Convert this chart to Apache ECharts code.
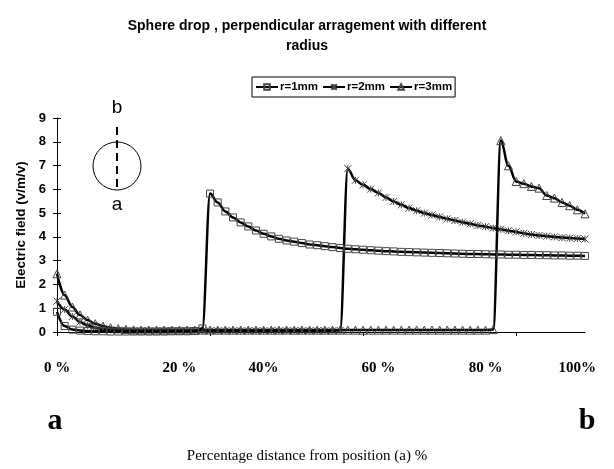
<!DOCTYPE html>
<html>
<head>
<meta charset="utf-8">
<script src="https://cdn.jsdelivr.net/npm/echarts@6/dist/echarts.min.js"></script>
<style>
html,body{margin:0;padding:0;background:#fff;}
#chart{width:614px;height:469px;}
</style>
</head>
<body>
<div id="chart"></div>
<script>
// ---- data ----
const seriesNames = ['r=1mm', 'r=2mm', 'r=3mm'];
const r1 = [0.85,0.25,0.10,0.06,0.04,0.03,0.03,0.02,0.02,0.02,0.02,0.02,0.02,0.02,0.02,0.03,0.03,0.03,0.04,0.15,
  5.82,5.45,5.07,4.82,4.61,4.44,4.27,4.13,4.02,3.92,3.85,3.80,3.74,3.68,3.65,3.61,3.57,3.53,3.50,3.48,
  3.46,3.44,3.42,3.40,3.39,3.37,3.36,3.35,3.34,3.33,3.32,3.31,3.30,3.29,3.28,3.28,3.27,3.26,3.26,3.25,
  3.25,3.24,3.24,3.23,3.23,3.22,3.22,3.21,3.21,3.20];
const r2 = [1.30,0.95,0.65,0.42,0.28,0.18,0.12,0.09,0.07,0.06,0.05,0.05,0.05,0.05,0.05,0.05,0.05,0.05,0.05,0.05,
  0.05,0.05,0.05,0.05,0.05,0.05,0.05,0.05,0.05,0.05,0.05,0.05,0.05,0.05,0.05,0.05,0.05,0.07,6.87,6.38,
  6.19,6.01,5.85,5.66,5.49,5.35,5.21,5.10,5.00,4.92,4.84,4.76,4.69,4.62,4.55,4.48,4.43,4.37,4.32,4.26,
  4.21,4.15,4.10,4.06,4.03,4.00,3.97,3.95,3.93,3.91];
const r3 = [2.45,1.55,1.05,0.72,0.50,0.35,0.25,0.18,0.14,0.11,0.09,0.08,0.08,0.08,0.08,0.08,0.08,0.08,0.08,0.08,
  0.08,0.08,0.08,0.08,0.08,0.08,0.08,0.08,0.08,0.08,0.08,0.08,0.08,0.08,0.08,0.08,0.08,0.08,0.08,0.08,
  0.08,0.08,0.08,0.08,0.08,0.08,0.08,0.08,0.08,0.08,0.08,0.08,0.08,0.08,0.08,0.08,0.08,0.10,8.05,6.99,
  6.33,6.24,6.12,6.05,5.74,5.63,5.45,5.31,5.14,4.97];
const categories = r1.map((_, i) => String(i + 1));
// percentage tick labels and the category point each one sits under
const xTickLabels = ['0 %', '20 %', '40%', '60 %', '80 %', '100%'];
const xTickAt = [0, 16, 27, 42, 56, 68];
const yTicks = [0, 1, 2, 3, 4, 5, 6, 7, 8, 9];

// ---- chart ----
const chart = echarts.init(document.getElementById('chart'), null, {renderer: 'canvas'});
const SANS = 'Liberation Sans, Arial, sans-serif';
const SERIF = 'Liberation Serif, Times New Roman, serif';
const symbols = ['rect', 'path://M0,0 L10,10 M10,0 L0,10 M5,0 L5,10', 'triangle'];
const labelMap = {};
xTickAt.forEach((c, i) => { labelMap[c] = xTickLabels[i]; });

const series = [r1, r2, r3].map((d, i) => ({
  name: seriesNames[i],
  type: 'line',
  data: d,
  smooth: 0.35,
  smoothMonotone: 'x',
  symbol: symbols[i],
  symbolSize: i === 2 ? 8 : 7,
  showAllSymbol: true,
  lineStyle: {color: '#000', width: 2.5},
  itemStyle: {color: 'rgba(255,255,255,0)', borderColor: '#444', borderWidth: 1},
  emphasis: {disabled: true},
  z: 3 - i
}));

chart.setOption({
  animation: false,
  backgroundColor: '#fff',
  title: {
    text: 'Sphere drop , perpendicular arragement with different\nradius',
    left: 'center',
    top: 11,
    textStyle: {fontFamily: SANS, fontWeight: 'bold', fontSize: 14, lineHeight: 20, color: '#000'}
  },
  legend: {
    data: seriesNames,
    left: 252,
    top: 77,
    orient: 'horizontal',
    borderColor: '#000',
    borderWidth: 1,
    padding: [4, 3],
    itemGap: 4,
    itemWidth: 22,
    itemHeight: 7,
    textStyle: {fontFamily: SANS, fontWeight: 'bold', fontSize: 11.5, color: '#000', padding: [0, 0, 0, -3]}
  },
  grid: {left: 57, right: 29, top: 118, bottom: 137, containLabel: false},
  xAxis: {
    type: 'category',
    data: categories,
    boundaryGap: false,
    axisLine: {lineStyle: {color: '#000', width: 1}},
    axisTick: {show: true, interval: 19, length: 4, lineStyle: {color: '#000'}},
    axisLabel: {
      interval: (idx) => labelMap[idx] !== undefined,
      formatter: (v, idx) => labelMap[idx] || '',
      margin: 29,
      fontFamily: SERIF, fontWeight: 'bold', fontSize: 15, color: '#000'
    },
    splitLine: {show: false}
  },
  yAxis: [{
    type: 'value',
    min: 0, max: 9, interval: 1,
    name: 'Electric field (v/m/v)',
    nameLocation: 'middle',
    nameGap: 28,
    nameTextStyle: {fontFamily: SANS, fontWeight: 'bold', fontSize: 13.5, color: '#000'},
    axisLine: {show: true, lineStyle: {color: '#000', width: 1}},
    axisTick: {show: true, length: 4, lineStyle: {color: '#000'}},
    axisLabel: {margin: 11, fontFamily: SANS, fontWeight: 'bold', fontSize: 13, color: '#000',
      formatter: (v) => yTicks.indexOf(v) >= 0 ? String(v) : ''},
    splitLine: {show: false}
  }, {
    type: 'value',
    position: 'left',
    min: 0, max: 9, interval: 1,
    axisLine: {show: false},
    axisTick: {show: true, inside: true, length: 4, lineStyle: {color: '#000'}},
    axisLabel: {show: false},
    splitLine: {show: false}
  }],
  series: series,
  graphic: [
    {type: 'circle', shape: {cx: 117, cy: 166, r: 24}, style: {fill: 'none', stroke: '#000', lineWidth: 1}},
    {type: 'line', shape: {x1: 117, y1: 127, x2: 117, y2: 189}, style: {stroke: '#000', lineWidth: 2, lineDash: [8, 5]}},
    {type: 'text', x: 117, y: 108, style: {text: 'b', fontFamily: SANS, fontSize: 19, fill: '#000', align: 'center', verticalAlign: 'middle'}},
    {type: 'text', x: 117, y: 205, style: {text: 'a', fontFamily: SANS, fontSize: 19, fill: '#000', align: 'center', verticalAlign: 'middle'}},
    {type: 'text', x: 55, y: 421, style: {text: 'a', fontFamily: SERIF, fontWeight: 'bold', fontSize: 30, fill: '#000', align: 'center', verticalAlign: 'middle'}},
    {type: 'text', x: 587, y: 421, style: {text: 'b', fontFamily: SERIF, fontWeight: 'bold', fontSize: 30, fill: '#000', align: 'center', verticalAlign: 'middle'}},
    {type: 'text', x: 307, y: 456, style: {text: 'Percentage distance from position (a) %', fontFamily: SERIF, fontSize: 15, fill: '#000', align: 'center', verticalAlign: 'middle'}}
  ]
});
</script>
</body>
</html>
